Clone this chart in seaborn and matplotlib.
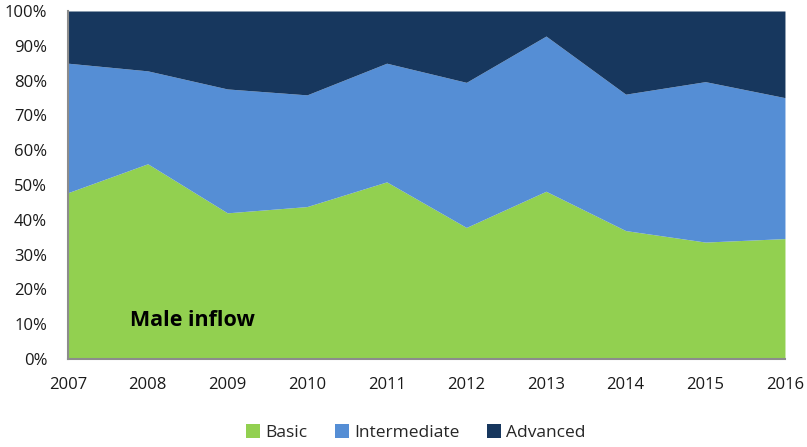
import matplotlib
matplotlib.use("Agg")
import matplotlib.pyplot as plt
import seaborn as sns
import numpy as np
from matplotlib.patches import Patch

years = [2007, 2008, 2009, 2010, 2011, 2012, 2013, 2014, 2015, 2016]
basic = [47.8, 56.1, 42.0, 43.8, 50.9, 37.8, 48.2, 36.9, 33.6, 34.6]
intermediate = [37.2, 26.7, 35.6, 32.1, 34.1, 41.7, 44.6, 39.2, 46.1, 40.5]
advanced = [15.0, 17.2, 22.4, 24.1, 15.0, 20.5, 7.2, 23.9, 20.3, 24.9]
series_names = ["Basic", "Intermediate", "Advanced"]
colors = ["#92D050", "#558ED5", "#17375E"]
yticks = [0, 10, 20, 30, 40, 50, 60, 70, 80, 90, 100]

sns.set_style("white")
plt.rcParams["font.family"] = ["Open Sans", "DejaVu Sans"]

fig = plt.figure(figsize=(8.07, 4.47), dpi=100)
ax = fig.add_axes([0.0843, 0.1969, 0.8884, 0.7785])
ax.stackplot(years, basic, intermediate, advanced, colors=colors, linewidth=0)

ax.set_xlim(years[0], years[-1])
ax.set_ylim(0, 100)
ax.set_xticks(years)
ax.set_xticklabels([str(y) for y in years], fontsize=12, color="#1a1a1a")
ax.set_yticks(yticks)
ax.set_yticklabels([f"{v}%" for v in yticks], fontsize=12, color="#1a1a1a")
ax.tick_params(axis="y", length=0, pad=15)
ax.tick_params(axis="x", length=0, pad=13)
for s in ["top", "right"]:
    ax.spines[s].set_visible(False)
for s in ["left", "bottom"]:
    ax.spines[s].set_color("#8c8c8c")
    ax.spines[s].set_linewidth(1.5)

ax.text(2007.78, 11, "Male inflow", fontsize=15.5, fontweight="bold", color="black", va="center", ha="left")

handles = [Patch(facecolor=c, edgecolor="none") for c in colors]
fig.legend(handles, series_names, loc="center", bbox_to_anchor=(0.515, 0.032), ncol=3,
           frameon=False, fontsize=12.5, handlelength=0.8, handleheight=0.8,
           handletextpad=0.3, columnspacing=1.6)

fig.savefig("out.png", dpi=100)
